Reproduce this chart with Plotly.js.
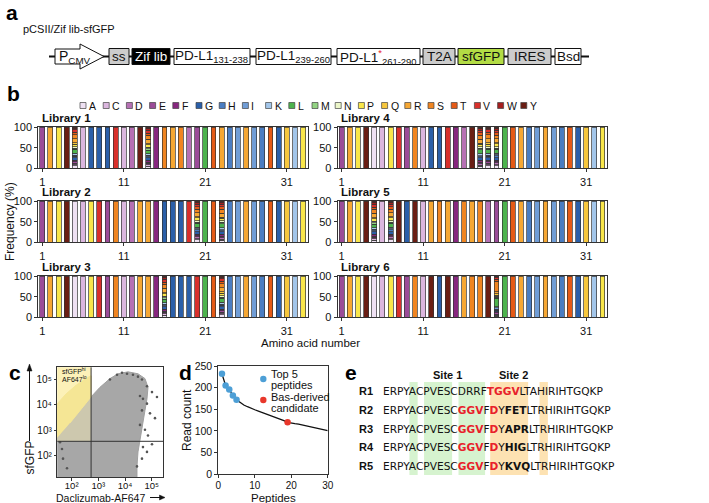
<!DOCTYPE html>
<html><head><meta charset="utf-8">
<script src="https://cdn.plot.ly/plotly-3.0.1.min.js"></script>
<style>html,body{margin:0;padding:0;background:#fff}#chart{width:709px;height:503px}</style>
</head><body><div id="chart"></div>
<script>
const W = 709, H = 503;
const FONT = 'Liberation Sans, Arial, sans-serif';
const MONO = 'DejaVu Sans';

// ---------- Panel b data ----------
const aaLetters = ['A','C','D','E','F','G','H','I','K','L','M','N','P','Q','R','S','T','V','W','Y'];
const aaColors  = ['#efe1f3','#dbb6de','#b670b4','#9b4c98','#87277f','#2b5fa9','#4a7dc2','#709dd6','#a3c6ea','#4db34d','#93d383','#ecf6c9','#f9e64a','#f7c73d','#f6a733','#f08521','#e55a16','#d9302b','#a51f1f','#6a1e14'];
const aaPositions = Array.from({length:33}, (_, i) => i + 1);
const xTickVals = [1, 11, 21, 31];

const lib1Seq = 'ERPYXCGGGVCDYXFSRSDELTRHIRIHTGQKP'.split('');
const lib2Seq = 'ERPYACPVESCDRRFGGGVXLTXHIRIHTGQKP'.split('');
const lib3Seq = 'ERPYACPVESCDRRFXGGGVLTXHIRIHTGQKP'.split('');
const lib4Seq = 'ERPYACPVESCGGVFDYXXXLTRHIRIHTGQKP'.split('');
const lib5Seq = 'ERPYXCXYGYCRSRFSRSDELTRHIRIHTGQKP'.split('');
const lib6Seq = 'ERPYACPVESCYGYFRSSYXLTRHIRIHTGQKP'.split('');

// randomized-position composition (%), order A..Y
const mixA = [6,3,3,4,3,7,3,3,4,10,3,3,6,4,10,9,6,6,3,4];
const mixB = [5,4,3,3,4,6,3,4,3,9,3,4,6,3,10,10,5,7,4,4];
const mixC = [6,3,4,3,3,7,4,3,3,10,3,3,7,3,9,9,6,6,4,4];
const mixD = [5,3,3,4,4,6,3,3,4,10,4,3,6,3,9,10,6,6,4,4];
const mixE = [3,2,3,3,2,4,3,3,3,20,3,2,3,3,5,25,5,4,2,2];

const libTitles = ['Library 1','Library 2','Library 3','Library 4','Library 5','Library 6'];
const libSeqs = [lib1Seq, lib2Seq, lib3Seq, lib4Seq, lib5Seq, lib6Seq];
const libMixes = [[mixA, mixB], [mixC, mixD], [mixB, mixA], [mixD, mixA, mixC], [mixB, mixC], [mixE]];
const freqTicks = [0, 50, 100];

// ---------- Panel c data (log10 units) ----------
const cloudLogX = [1.46,1.46,1.936,2.311,2.724,3.061,3.436,3.736,4.111,4.486,4.748,4.861,4.823,4.748,4.673,4.598,4.486,4.448,4.448];
const cloudLogY = [1.127,2.704,3.281,3.781,4.319,4.704,5.05,5.242,5.319,5.242,5.05,4.704,4.242,3.781,3.281,2.704,2.127,1.55,1.127];
const yellowLogX = [1.46,1.46,1.786,2.161,2.536,2.724,2.724,2.311,1.936];
const yellowLogY = [2.704,4.05,4.435,4.781,5.05,5.165,4.319,3.781,3.281];
const outLogX = [4.561,4.673,4.823,4.636,4.936,5.123,4.561,4.748,4.861,5.011,4.673,4.823,4.636,4.448,1.561,1.636,1.674,1.824,3.699,3.886,4.074,4.298,4.486,4.636,4.823,5.011,3.436,5.198];
const outLogY = [4.358,4.242,4.05,3.781,3.665,3.473,3.204,3.012,2.781,2.435,2.319,2.127,1.858,1.55,2.512,2.242,1.858,1.473,5.204,5.281,5.242,5.204,5.127,5.012,4.742,4.512,5.012,4.319];
const gateLogX = 2.727, gateLogY = 2.55;
const cTickVals = [100, 1000, 10000, 100000];
const cTickText = ['10\u00b2','10\u00b3','10\u2074','10\u2075'];

// ---------- Panel d data ----------
const peptideRank = Array.from({length:30}, (_, i) => i + 1);
const readCounts = [232,205,196,182,172,165,160,156,152,149,146,143,140,137,134,131,128,124,120,118,117,116,114,112,110,108,106,104,103,101];
const top5Ranks = [1,2,3,4,5];
const basRanks = [19];

// ---------- Panel e data ----------
const rowLabels = ['R1','R2','R3','R4','R5'];
const rowSeqs = ['ERPYACPVESCDRRFTGGVLTAHIRIHTGQKP','ERPYACPVESCGGVFDYFETLTRHIRIHTGQKP','ERPYACPVESCGGVFDYAPRLTRHIRIHTGQKP','ERPYACPVESCGGVFDYHIGLTRHIRIHTGQKP','ERPYACPVESCGGVFDYKVQLTRHIRIHTGQKP'];
const rowRed = [[15,16,17,18],[11,12,13,15],[11,12,13,15],[11,12,13,15],[11,12,13,15]];
const rowBold = [[],[17,18,19],[17,18,19],[17,18,19],[17,18,19]];
const site1Cols = [[4,4],[6,9],[11,13]];
const site2Cols = [[15,19],[22,22]];

// ---------- Panel a construct ----------
const constructParts = [
  {t:'ss', a:109, b:129, fill:'#cccccc', c:'#111'},
  {t:'Zif lib', a:132, b:170, fill:'#000000', c:'#fff'},
  {t:'PD-L1<sub>131-238</sub>', a:174, b:250, fill:'#ffffff', c:'#111'},
  {t:'PD-L1<sub>239-260</sub>', a:256, b:331, fill:'#ffffff', c:'#111'},
  {t:'PD-L1<span style="color:#e8202a"><sup>*</sup></span><sub>261-290</sub>', a:337, b:420, fill:'#ffffff', c:'#111'},
  {t:'T2A', a:423, b:455, fill:'#cccccc', c:'#111'},
  {t:'sfGFP', a:458, b:504, fill:'#b3dc45', c:'#111'},
  {t:'IRES', a:508, b:551, fill:'#cccccc', c:'#111'},
  {t:'Bsd', a:555, b:581, fill:'#ffffff', c:'#111'}
];

// ---------- helpers ----------
const px = x => x / W, py = y => 1 - y / H;
const axId = n => n === 1 ? '' : String(n);
function ann(x, y, text, o) {
  o = o || {};
  return {xref:'paper', yref:'paper', x:px(x), y:py(y), text:text, showarrow:false,
    xanchor:o.xa || 'left', yanchor:o.ya || 'middle', textangle:o.rot || 0,
    font:{family:o.fam || FONT, size:o.size || 11, color:o.color || '#111'}};
}
function rect(x0, y0, x1, y1, fill, lc, lw, layer) {
  return {type:'rect', xref:'paper', yref:'paper', x0:px(x0), x1:px(x1), y0:py(y1), y1:py(y0),
    fillcolor:fill, line:{color:lc || 'rgba(0,0,0,0)', width:lw === undefined ? 1 : lw}, layer:layer || 'above'};
}
function line(x0, y0, x1, y1, col, w) {
  return {type:'line', xref:'paper', yref:'paper', x0:px(x0), x1:px(x1), y0:py(y0), y1:py(y1), line:{color:col || '#111', width:w || 1}, layer:'above'};
}
function poly(pts, fill) {
  const d = pts.map((p, i) => (i ? 'L ' : 'M ') + px(p[0]) + ' ' + py(p[1])).join(' ') + ' Z';
  return {type:'path', xref:'paper', yref:'paper', path:d, fillcolor:fill, line:{color:fill, width:0.5}, layer:'above'};
}

const traces = [];
const layout = {width:W, height:H, margin:{l:0,r:0,t:0,b:0}, paper_bgcolor:'#ffffff', plot_bgcolor:'rgba(0,0,0,0)',
  barmode:'stack', bargap:0, showlegend:false, font:{family:FONT, size:11, color:'#111'}, shapes:[], annotations:[]};

// ---------- Panel b ----------
const colX = [[38.2, 308], [337.6, 607.4]];
const rowY = [[127, 168.3], [201, 242.3], [276, 317.3]];
libSeqs.forEach((seq, L) => {
  const n = L + 1, id = axId(n);
  let k = 0;
  const mixIdx = seq.map(c => c === 'X' ? k++ : -1);
  aaLetters.forEach((aa, j) => {
    const y = seq.map((c, i) => c === aa ? 100 : (c === 'X' ? libMixes[L][mixIdx[i]][j] : null));
    traces.push({type:'bar', x:aaPositions, y:y, xaxis:'x' + id, yaxis:'y' + id, width:0.6,
      marker:{color:aaColors[j], line:{color:'#333', width:0.7}}, hoverinfo:'skip', showlegend:false});
  });
  const col = L < 3 ? 0 : 1, row = L % 3;
  const [x0, x1] = colX[col], [y0, y1] = rowY[row];
  layout['xaxis' + id] = {domain:[px(x0), px(x1)], anchor:'y' + id, range:[0.5, 33.6], tickvals:xTickVals,
    ticks:'outside', ticklen:3, tickwidth:1, tickcolor:'#333', showline:true, mirror:true, linecolor:'#333', linewidth:1,
    showgrid:false, zeroline:false, tickfont:{size:11, color:'#111'}, fixedrange:true};
  layout['yaxis' + id] = {domain:[py(y1), py(y0)], anchor:'x' + id, range:[0, 100], tickvals:freqTicks,
    ticks:'outside', ticklen:3, tickwidth:1, tickcolor:'#333', showline:true, mirror:true, linecolor:'#333', linewidth:1,
    showgrid:false, zeroline:false, tickfont:{size:11, color:'#111'}, fixedrange:true};
  layout.annotations.push(ann(x0 + 1.5, y0 - 9, '<b>' + libTitles[L] + '</b>', {size:11.5}));
});
aaLetters.forEach((aa, j) => {
  const x = 80 + j * 23.2;
  layout.shapes.push(rect(x, 102.5, x + 6, 108.5, aaColors[j], '#444', 0.7));
  layout.annotations.push(ann(x + 7, 105.7, aa, {size:10.5}));
});
layout.annotations.push(ann(10, 222, 'Frequency (%)', {xa:'center', rot:-90, size:12}));
layout.annotations.push(ann(310, 343, 'Amino acid number', {xa:'center', size:11.5}));

// ---------- Panel c ----------
const c0 = {x0:57.3, x1:163.3, y0:367.3, y1:477};
layout.xaxis7 = {domain:[px(c0.x0), px(c0.x1)], anchor:'y7', type:'log', range:[1.46, 5.435], tickvals:cTickVals, ticktext:cTickText,
  ticks:'outside', ticklen:2.5, tickcolor:'#333', showline:true, mirror:true, linecolor:'#333', linewidth:1, showgrid:false, zeroline:false,
  tickfont:{size:9.5}, ticklabelstandoff:-3, fixedrange:true};
layout.yaxis7 = {domain:[py(c0.y1), py(c0.y0)], anchor:'x7', type:'log', range:[1.127, 5.5], tickvals:cTickVals, ticktext:cTickText,
  ticks:'outside', ticklen:2.5, tickcolor:'#333', showline:true, mirror:true, linecolor:'#333', linewidth:1, showgrid:false, zeroline:false, tickfont:{size:10}, fixedrange:true};
const toVal = a => a.map(v => Math.pow(10, v));
const gx = c0.x0 + (gateLogX - 1.46) / (5.435 - 1.46) * (c0.x1 - c0.x0);
const gy = c0.y1 - (gateLogY - 1.127) / (5.5 - 1.127) * (c0.y1 - c0.y0);
layout.shapes.push(rect(c0.x0, c0.y0, gx, gy, '#fbf1b8', null, 0, 'below'));
traces.push({type:'scatter', mode:'lines', x:toVal(cloudLogX), y:toVal(cloudLogY), fill:'toself', fillcolor:'#a7a7a7',
  line:{color:'#a0a0a0', width:1}, xaxis:'x7', yaxis:'y7', hoverinfo:'skip'});
traces.push({type:'scatter', mode:'lines', x:toVal(yellowLogX), y:toVal(yellowLogY), fill:'toself', fillcolor:'#efdc78',
  line:{color:'#efdc78', width:1}, xaxis:'x7', yaxis:'y7', hoverinfo:'skip'});
traces.push({type:'scatter', mode:'markers', x:toVal(outLogX), y:toVal(outLogY), marker:{size:2.6, color:'#555'},
  xaxis:'x7', yaxis:'y7', hoverinfo:'skip'});
layout.shapes.push(rect(c0.x0, c0.y0, gx, gy, 'rgba(252,242,185,0.45)', null, 0, 'above'));
layout.shapes.push(line(gx, c0.y0, gx, c0.y1, '#333', 1));
layout.shapes.push(line(c0.x0, gy, c0.x1, gy, '#333', 1));
layout.annotations.push(ann(60, 371, 'sfGFP<sup>hi</sup>', {size:7}));
layout.annotations.push(ann(60, 379, 'AF647<sup>lo</sup>', {size:7}));
layout.annotations.push(ann(29.5, 458, 'sfGFP', {xa:'center', rot:-90, size:12}));
layout.shapes.push(line(29.5, 441, 29.5, 369, '#111', 1));
layout.shapes.push(poly([[29.5, 364], [27, 371], [32, 371]], '#111'));
layout.annotations.push(ann(100, 497.5, 'Daclizumab-AF647', {xa:'center', size:10.5}));
layout.shapes.push(line(150, 497.5, 161, 497.5, '#111', 1));
layout.shapes.push(poly([[165, 497.5], [159.5, 495], [159.5, 500]], '#111'));

// ---------- Panel d ----------
const d0 = {x0:218.3, x1:327.7, y0:366, y1:474.3};
layout.xaxis8 = {domain:[px(d0.x0), px(d0.x1)], anchor:'y8', range:[0, 30], tickvals:[0,10,20,30],
  ticks:'outside', ticklen:3, tickcolor:'#333', showline:true, mirror:true, linecolor:'#333', linewidth:1, showgrid:false, zeroline:false,
  tickfont:{size:10}, ticklabelstandoff:-1, fixedrange:true};
layout.yaxis8 = {domain:[py(d0.y1), py(d0.y0)], anchor:'x8', range:[0, 250], tickvals:[0,50,100,150,200,250],
  ticks:'outside', ticklen:3, tickcolor:'#333', showline:true, mirror:true, linecolor:'#333', linewidth:1, showgrid:false, zeroline:false, tickfont:{size:10.5}, fixedrange:true};
traces.push({type:'scatter', mode:'lines', x:peptideRank, y:readCounts, line:{color:'#111', width:1.3}, xaxis:'x8', yaxis:'y8', hoverinfo:'skip'});
traces.push({type:'scatter', mode:'markers', x:top5Ranks, y:top5Ranks.map(r => readCounts[r - 1]), marker:{size:6.5, color:'#4d9fd6'}, xaxis:'x8', yaxis:'y8', hoverinfo:'skip'});
traces.push({type:'scatter', mode:'markers', x:basRanks, y:basRanks.map(r => readCounts[r - 1]), marker:{size:6.5, color:'#e8372b'}, xaxis:'x8', yaxis:'y8', hoverinfo:'skip'});
function dot(cx, cy, r, col) { return {type:'circle', xref:'paper', yref:'paper', x0:px(cx - r), x1:px(cx + r), y0:py(cy + r), y1:py(cy - r), fillcolor:col, line:{width:0}, layer:'above'}; }
layout.shapes.push(dot(263.3, 379, 3.2, '#4d9fd6'));
layout.shapes.push(dot(263.3, 400, 3.2, '#e8372b'));
layout.annotations.push(ann(269, 374, 'Top 5', {size:11}));
layout.annotations.push(ann(269, 384.5, 'peptides', {size:11}));
layout.annotations.push(ann(269, 397, 'Bas-derived', {size:11}));
layout.annotations.push(ann(269, 407.5, 'candidate', {size:11}));
layout.annotations.push(ann(187, 420, 'Read count', {xa:'center', rot:-90, size:12}));
layout.annotations.push(ann(273, 497.5, 'Peptides', {xa:'center', size:11.5}));

// ---------- Panel e ----------
const EFS = 10.6;
const ctx = document.createElement('canvas').getContext('2d');
function cw(ch, bold) { ctx.font = (bold ? 'bold ' : '') + EFS + 'px "DejaVu Sans"'; return ctx.measureText(ch).width; }
const seqX = 383, rowY0 = 391, rowStep = 18.75;
function rowHtml(r) {
  const s = rowSeqs[r];
  let out = '';
  for (let i = 0; i < s.length; i++) {
    const red = rowRed[r].includes(i), bold = rowBold[r].includes(i);
    if (red) out += '<span style="color:#e8202a"><b>' + s[i] + '</b></span>';
    else if (bold) out += '<b>' + s[i] + '</b>';
    else out += s[i];
  }
  return out;
}
function prefixW(r, idx) {
  const s = rowSeqs[r]; let w = 0;
  for (let i = 0; i < idx; i++) w += cw(s[i], rowRed[r].includes(i) || rowBold[r].includes(i));
  return w;
}
const refRow = 1;
const hlTop = 382, hlBot = 475;
site1Cols.forEach(([a, b]) => layout.shapes.push(rect(seqX + prefixW(refRow, a) - 0.5, hlTop, seqX + prefixW(refRow, b + 1) + 0.5, hlBot, '#d6f3cf', null, 0, 'below')));
site2Cols.forEach(([a, b]) => layout.shapes.push(rect(seqX + prefixW(refRow, a) - 0.5, hlTop, seqX + prefixW(refRow, b + 1) + 0.5, hlBot, '#fde2b2', null, 0, 'below')));
const s1c = seqX + (prefixW(refRow, site1Cols[0][0]) + prefixW(refRow, site1Cols[2][1] + 1)) / 2;
const s2c = seqX + (prefixW(refRow, site2Cols[0][0]) + prefixW(refRow, site2Cols[0][1] + 1)) / 2 + 4;
layout.annotations.push(ann(s1c, 375, '<b>Site 1</b>', {xa:'center', size:11}));
layout.annotations.push(ann(s2c, 375, '<b>Site 2</b>', {xa:'center', size:11}));
rowLabels.forEach((lab, r) => {
  const y = rowY0 + r * rowStep;
  layout.annotations.push(ann(357, y, '<b>' + lab + '</b>', {size:11}));
  layout.annotations.push(ann(seqX - 2, y, rowHtml(r), {size:EFS, fam:MONO}));
});

// ---------- Panel a ----------
const bY0 = 48.5, bY1 = 64.5, bMid = 56.5;
layout.shapes.push(line(49, bMid, 589, bMid, '#111', 2));
const arrowPath = ['M', px(55), py(49), 'L', px(80), py(49), 'L', px(80), py(44), 'L', px(104), py(bMid), 'L', px(80), py(69), 'L', px(80), py(64), 'L', px(55), py(64), 'Z'].join(' ');
layout.shapes.push({type:'path', xref:'paper', yref:'paper', path:arrowPath, fillcolor:'#fff', line:{color:'#111', width:1}, layer:'above'});
layout.annotations.push(ann(75, bMid, 'P<sub>CMV</sub>', {xa:'center', size:14}));
constructParts.forEach(p => {
  layout.shapes.push(rect(p.a, bY0, p.b, bY1, p.fill, '#111', 1));
  layout.annotations.push(ann((p.a + p.b) / 2, bMid, p.t, {xa:'center', size:13.5, color:p.c}));
});
layout.annotations.push(ann(21, 29, 'pCSII/Zif lib-sfGFP', {size:11}));

// panel letters
[['a',4,13],['b',5,93],['c',7,372],['d',177,372],['e',343,372]].forEach(([t, x, y]) =>
  layout.annotations.push(ann(x, y, '<b>' + t + '</b>', {size:21, color:'#000'})));

Plotly.newPlot('chart', traces, layout, {staticPlot:true, displayModeBar:false});
</script></body></html>
